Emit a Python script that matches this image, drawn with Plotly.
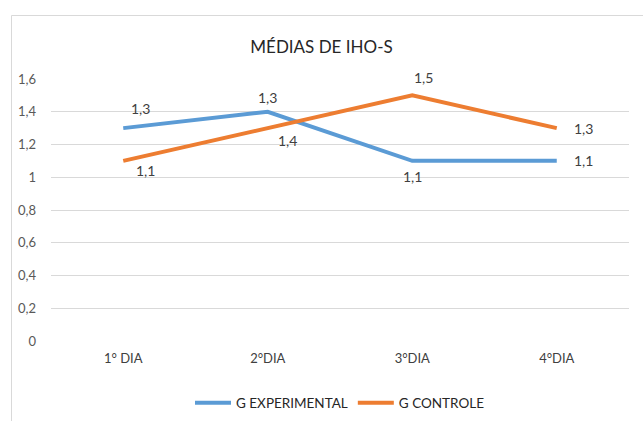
import plotly.graph_objects as go

categories = ["1° DIA", "2°DIA", "3°DIA", "4°DIA"]
exp_values = [1.3, 1.4, 1.1, 1.1]
ctrl_values = [1.1, 1.3, 1.5, 1.3]
exp_labels = ["1,3", "1,3", "1,1", "1,1"]
ctrl_labels = ["1,1", "1,4", "1,5", "1,3"]
y_ticks = [0, 0.2, 0.4, 0.6, 0.8, 1.0, 1.2, 1.4, 1.6]

# label offsets (px) relative to each point
exp_offsets = [(17, 20), (0, 14), (0, -16), (27, 0)]
ctrl_offsets = [(22, -10), (20, -12), (11, 18), (27, 0)]

FONT = "Lato, Open Sans, sans-serif"
BLUE = "#5B9BD5"
ORANGE = "#ED7D31"

fig = go.Figure()
fig.add_trace(go.Scatter(x=categories, y=exp_values, mode="lines", name="G EXPERIMENTAL",
                         line=dict(color=BLUE, width=4)))
fig.add_trace(go.Scatter(x=categories, y=ctrl_values, mode="lines", name="G CONTROLE",
                         line=dict(color=ORANGE, width=4)))

anns = []
for vals, labs, offs in ((exp_values, exp_labels, exp_offsets), (ctrl_values, ctrl_labels, ctrl_offsets)):
    for c, v, t, (dx, dy) in zip(categories, vals, labs, offs):
        anns.append(dict(x=c, y=v, xref="x", yref="y", text=t, showarrow=False,
                         xshift=dx, yshift=dy, font=dict(family=FONT, size=14, color="#404040")))

fig.update_layout(
    width=643, height=421,
    margin=dict(l=51, r=14, t=79, b=80),
    paper_bgcolor="white", plot_bgcolor="white",
    separators=",.",
    title=dict(text="MÉDIAS DE IHO-S", x=0.5, xanchor="center", y=1 - 47 / 421, yanchor="middle",
               font=dict(family=FONT, size=17, color="#262626")),
    font=dict(family=FONT, size=13, color="#595959"),
    showlegend=True,
    legend=dict(orientation="h", x=0.5, xanchor="center", yref="container",
                y=(421 - 403) / 421, yanchor="middle",
                font=dict(family=FONT, size=13.5, color="#262626"), itemwidth=36),
    annotations=anns,
    shapes=[dict(type="rect", xref="paper", yref="paper",
                 x0=(11.5 - 51) / 578, x1=(660 - 51) / 578,
                 y0=(341 - 440) / 262, y1=(341 - 15.5) / 262,
                 line=dict(color="#D9D9D9", width=1), fillcolor="rgba(0,0,0,0)", layer="below")],
)
fig.update_xaxes(range=[-0.5, 3.5], showgrid=False, showline=False, zeroline=False, ticks="",
                 ticklabelstandoff=8,
                 tickfont=dict(family=FONT, size=13, color="#404040"))
fig.update_yaxes(range=[0, 1.6], tickvals=y_ticks, showgrid=True, gridcolor="#D9D9D9", gridwidth=1,
                 zeroline=False, showline=False, ticks="", ticklabelstandoff=14,
                 tickfont=dict(family=FONT, size=13, color="#595959"))

fig.write_html("out.html", config={"displayModeBar": False},
               post_script="document.body.style.margin='0';")
